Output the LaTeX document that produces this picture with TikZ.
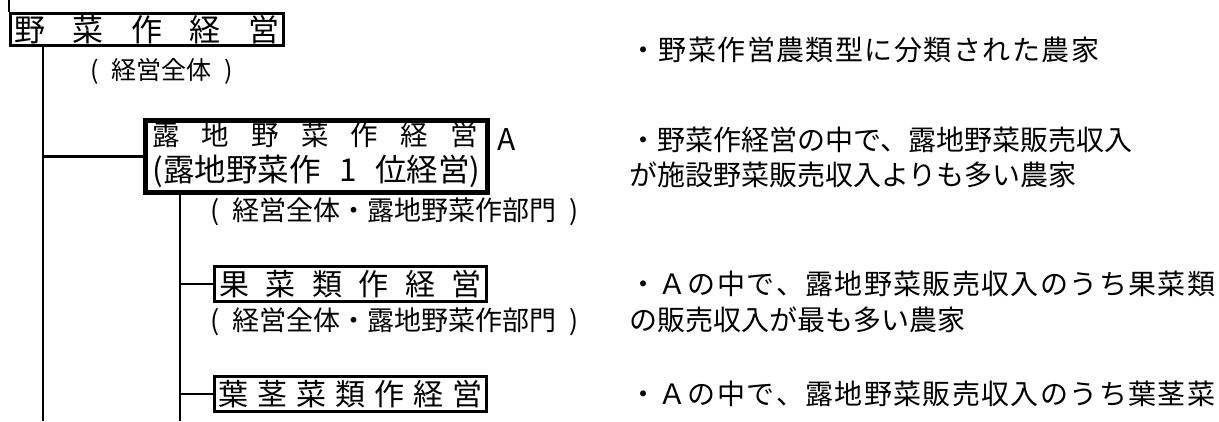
\documentclass[tikz,border=0pt]{standalone}
\usepackage{fontspec}
\setmainfont{Noto Sans CJK JP}
\newcommand\spreadbox[2]{\hbox to #1{\spreadloop#2\relax\unskip}}
\def\spreadloop#1{\ifx#1\relax\else#1\hfil\expandafter\spreadloop\fi}
\newcommand\fs[1]{\fontsize{#1}{#1}\selectfont}
\tikzset{
  box/.style={draw, line width=3pt, inner sep=0pt},
  boxA/.style={draw, line width=5pt, inner sep=0pt},
  lbl/.style={inner sep=0pt},
  rtxt/.style={inner sep=0pt, anchor=west, font=\fs{28}},
  conn/.style={line width=2.5pt},
}
\begin{document}
\begin{tikzpicture}[x=1pt, y=-1pt]
\useasboundingbox (0,0) rectangle (1219,421);
% boxes
\node[box, minimum width=273pt, minimum height=32pt, font=\fs{31}] (top) at (147,29.5) {\spreadbox{265pt}{野菜作経営}};
\node[lbl, font=\fs{25}] (topsub) at (161.5,71) {\hbox to 143pt{(\hfil 経営全体\hfil)}};

\node[boxA, minimum width=342pt, minimum height=72pt] (A) at (316.5,156.5) {};
\node[lbl, font=\fs{27.5}] (A1) at (315,135) {\spreadbox{326pt}{露地野菜作経営}};
\node[lbl, font=\fs{31.5}] (A2) at (316.5,171.5) {\hbox to 328pt{(露地野菜作\hfil 1\hfil 位経営)}};
\node[lbl, anchor=west, font=\fs{30}] (Alab) at (497,140) {A};
\node[lbl, anchor=west, font=\fs{27}] (Asub) at (210,212) {\hbox to 368pt{(\hfil 経営全体・露地野菜作部門\hfil)}};

\node[box, minimum width=272pt, minimum height=35pt, font=\fs{30}] (K) at (350.5,284) {\spreadbox{262pt}{果菜類作経営}};
\node[lbl, anchor=west, font=\fs{27}] (Ksub) at (210,322) {\hbox to 368pt{(\hfil 経営全体・露地野菜作部門\hfil)}};

\node[box, minimum width=272pt, minimum height=35pt, font=\fs{30}] (Y) at (350.5,394) {\spreadbox{264pt}{葉茎菜類作経営}};

% right descriptions
\node[rtxt] (r1) at (629,50) {\spreadbox{470pt}{・野菜作営農類型に分類された農家}};
\node[rtxt] (r2) at (629,140) {・野菜作経営の中で、露地野菜販売収入};
\node[rtxt] (r3) at (629,175) {が施設野菜販売収入よりも多い農家};
\node[rtxt] (r4) at (629,284) {\spreadbox{586pt}{・Ａの中で、露地野菜販売収入のうち果菜類}};
\node[rtxt] (r5) at (629,320) {の販売収入が最も多い農家};
\node[rtxt] (r6) at (629,394) {\spreadbox{586pt}{・Ａの中で、露地野菜販売収入のうち葉茎菜}};

% connectors
\coordinate (tl) at (0,0);
\coordinate (v1) at (43,421);
\coordinate (v2) at (180,421);
\draw[line width=2pt] (top.north west) -- (top.north west |- tl);
\draw[conn] (top.south -| v1) -- (v1);
\draw[conn] (A.west -| v1) -- (A.west);
\draw[conn] (A.south -| v2) -- (v2);
\draw[conn] (K.west -| v2) -- (K.west);
\draw[conn] (Y.west -| v2) -- (Y.west);
\end{tikzpicture}
\end{document}
